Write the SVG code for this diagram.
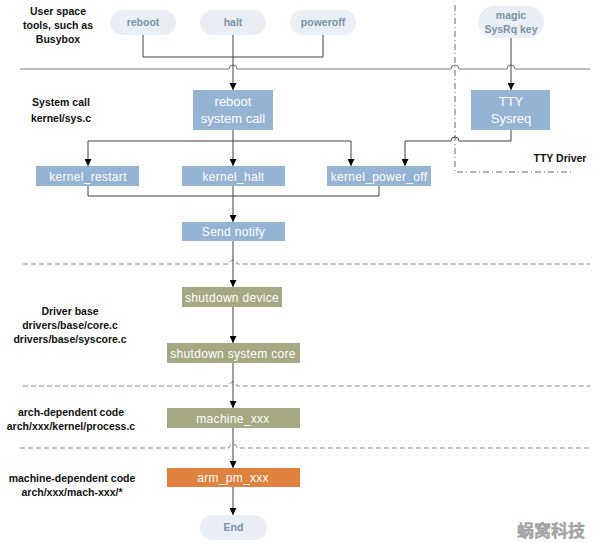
<svg xmlns="http://www.w3.org/2000/svg" width="595" height="543" viewBox="0 0 595 543">
<style>
.lbl{font-family:"Liberation Sans",Arial,sans-serif;font-size:10.5px;font-weight:bold;fill:#111;text-anchor:middle}
.pill rect{fill:#e9eff5}
.pill text{font-family:"Liberation Sans",Arial,sans-serif;font-size:10.5px;font-weight:bold;fill:#7d91a7;text-anchor:middle}
.bbox{fill:#95b3d3}
.gbox{fill:#a6a883}
.obox{fill:#e0813f}
.bt{font-family:"Liberation Sans",Arial,sans-serif;font-size:12px;fill:#fff;text-anchor:middle;letter-spacing:0.3px}
.bt13{font-family:"Liberation Sans",Arial,sans-serif;font-size:13px;fill:#fff;text-anchor:middle}
.conn{fill:none;stroke:#404040;stroke-width:1}
.sep{fill:none;stroke:#7a7a7a;stroke-width:1}
.dash{fill:none;stroke:#8a8a8a;stroke-width:1;stroke-dasharray:5 3}
.dashdot{fill:none;stroke:#666;stroke-width:1;stroke-dasharray:6 3 1 3}
</style>
<defs>
<marker id="arr" viewBox="0 0 8 8" refX="8" refY="4" markerWidth="7" markerHeight="7" markerUnits="userSpaceOnUse" orient="auto">
<path d="M0,0 L8,4 L0,8 z" fill="#000"/>
</marker>
</defs>
<rect width="595" height="543" fill="#fff"/>

<!-- layer labels -->
<g id="labels">
<text class="lbl" x="58" y="15">User space</text>
<text class="lbl" x="58" y="29">tools, such as</text>
<text class="lbl" x="58" y="43">Busybox</text>
<text class="lbl" x="61" y="106">System call</text>
<text class="lbl" x="61" y="122">kernel/sys.c</text>
<text class="lbl" x="560" y="162">TTY Driver</text>
<text class="lbl" x="70" y="315">Driver base</text>
<text class="lbl" x="70" y="329">drivers/base/core.c</text>
<text class="lbl" x="70" y="343">drivers/base/syscore.c</text>
<text class="lbl" x="71" y="416">arch-dependent code</text>
<text class="lbl" x="71" y="430">arch/xxx/kernel/process.c</text>
<text class="lbl" x="72" y="482">machine-dependent code</text>
<text class="lbl" x="72" y="496">arch/xxx/mach-xxx/*</text>
</g>

<!-- separators -->
<g id="separators">
<path class="sep" d="M20 69 H229 A4 4 0 0 1 237 69 H451 A4 4 0 0 1 459 69 H507 A4 4 0 0 1 515 69 H590"/>
<path class="dashdot" d="M455 5 V172 H574"/>
<path class="dash" d="M23 264 H229 A4 4 0 0 1 237 264 H590"/>
<path class="dash" d="M23 386 H229 A4 4 0 0 1 237 386 H590"/>
<path class="dash" d="M20 448 H229 A4 4 0 0 1 237 448 H590"/>
</g>

<!-- connectors -->
<g id="connectors">
<path class="conn" d="M143 35 V57 H323 V35"/>
<path class="conn" d="M233 35 V90" marker-end="url(#arr)"/>
<path class="conn" d="M511 38 V90" marker-end="url(#arr)"/>
<path class="conn" d="M233 130 V166" marker-end="url(#arr)"/>
<path class="conn" d="M233 141 H88 V166" marker-end="url(#arr)"/>
<path class="conn" d="M233 141 H351 V166" marker-end="url(#arr)"/>
<path class="conn" d="M511 130 V141 H459 A4 4 0 0 0 451 141 H405 V166" marker-end="url(#arr)"/>
<path class="conn" d="M88 186 V196 H379 V186"/>
<path class="conn" d="M233 186 V222" marker-end="url(#arr)"/>
<path class="conn" d="M233 241 V287" marker-end="url(#arr)"/>
<path class="conn" d="M233 307 V343" marker-end="url(#arr)"/>
<path class="conn" d="M233 363 V408" marker-end="url(#arr)"/>
<path class="conn" d="M233 428 V468" marker-end="url(#arr)"/>
<path class="conn" d="M233 487 V515" marker-end="url(#arr)"/>
</g>

<!-- nodes -->
<g id="n-reboot" class="pill"><rect x="110" y="10" width="66" height="25" rx="12.5"/><text x="143" y="26">reboot</text></g>
<g id="n-halt" class="pill"><rect x="200" y="10" width="66" height="25" rx="12.5"/><text x="233" y="26">halt</text></g>
<g id="n-poweroff" class="pill"><rect x="290" y="10" width="66" height="25" rx="12.5"/><text x="323" y="26">poweroff</text></g>
<g id="n-magic" class="pill"><rect x="478" y="6" width="66" height="32" rx="16"/><text x="511" y="19">magic</text><text x="511" y="33">SysRq key</text></g>

<g id="n-rebootsc"><rect class="bbox" x="193" y="90" width="80" height="40"/><text class="bt13" x="233" y="106">reboot</text><text class="bt13" x="233" y="123">system call</text></g>
<g id="n-tty"><rect class="bbox" x="471" y="90" width="79" height="40"/><text class="bt13" x="511" y="106">TTY</text><text class="bt13" x="511" y="123">Sysreq</text></g>

<g id="n-krestart"><rect class="bbox" x="36" y="166" width="103" height="20"/><text class="bt" x="88" y="180.5">kernel_restart</text></g>
<g id="n-khalt"><rect class="bbox" x="182" y="166" width="103" height="20"/><text class="bt" x="233.5" y="180.5">kernel_halt</text></g>
<g id="n-kpoweroff"><rect class="bbox" x="327" y="166" width="104" height="20"/><text class="bt" x="379" y="180.5">kernel_power_off</text></g>

<g id="n-sendnotify"><rect class="bbox" x="182" y="222" width="103" height="19"/><text class="bt" x="233.5" y="236">Send notify</text></g>

<g id="n-shutdowndev"><rect class="gbox" x="182" y="287" width="100" height="20"/><text class="bt" x="232" y="301.5">shutdown device</text></g>
<g id="n-shutdowncore"><rect class="gbox" x="167" y="343" width="133" height="20"/><text class="bt" x="233" y="357.5">shutdown system core</text></g>
<g id="n-machine"><rect class="gbox" x="167" y="408" width="133" height="20"/><text class="bt" x="233" y="422.5">machine_xxx</text></g>
<g id="n-armpm"><rect class="obox" x="167" y="468" width="133" height="19"/><text class="bt" x="233" y="482">arm_pm_xxx</text></g>

<g id="n-end" class="pill"><rect x="200" y="515" width="67" height="25" rx="12.5"/><text x="233.5" y="531">End</text></g>

<text x="551" y="537" font-family="'Noto Sans CJK SC',sans-serif" font-size="17" font-weight="bold" fill="#a8a8a8" stroke="#8a8a8a" stroke-width="0.3" text-anchor="middle">蜗窝科技</text>
</svg>
